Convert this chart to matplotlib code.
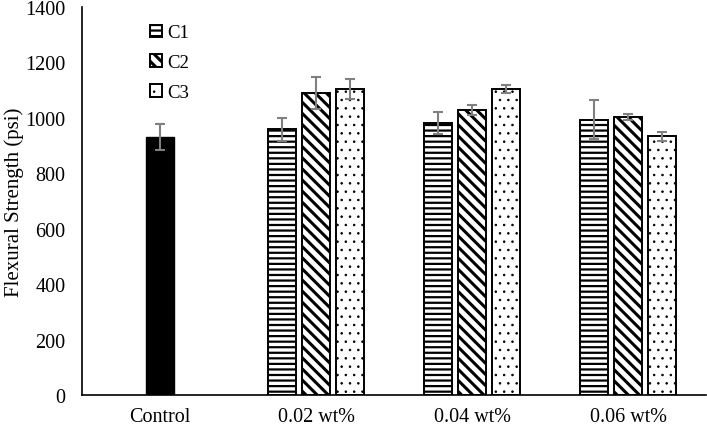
import matplotlib
matplotlib.use("Agg")
import matplotlib.pyplot as plt
import numpy as np

plt.rcParams['font.family'] = ['Liberation Serif', 'DejaVu Serif']
plt.rcParams['hatch.linewidth'] = 2.0

categories = ["Control", "0.02 wt%", "0.04 wt%", "0.06 wt%"]
control_value = 930
control_err = 47
series_names = ["C1", "C2", "C3"]
c1_values = [959, 981, 993]
c2_values = [1090, 1027, 1003]
c3_values = [1105, 1103, 933]
c1_err = [41, 41, 71]
c2_err = [57, 18, 11]
c3_err = [37, 15, 15]
y_ticks = [0, 200, 400, 600, 800, 1000, 1200, 1400]

fig = plt.figure(figsize=(7.07, 4.27), dpi=100)
ax = fig.add_axes([82/707, 31/427, 624/707, 388/427])

x = np.arange(len(categories))
width = 0.18
step = 0.22
err_kw = dict(ecolor='#808080', elinewidth=1.5, capsize=3.4, capthick=1.5)

ax.bar(x[0], control_value, width=0.175, color='black', edgecolor='black',
       yerr=control_err, error_kw=err_kw, zorder=2)

hatches = ['---', '\\\\\\', '..']
hatch_lw = [1.6, 2.2, 0.6]
series_vals = [c1_values, c2_values, c3_values]
series_errs = [c1_err, c2_err, c3_err]
for i, (name, vals, errs, h) in enumerate(zip(series_names, series_vals, series_errs, hatches)):
    bc = ax.bar(x[1:] + (i - 1) * step, vals, width=width, color='white', edgecolor='black',
                linewidth=1.4, hatch=h, yerr=errs, error_kw=err_kw, label=name, zorder=2)
    for p in bc.patches:
        if hasattr(p, 'set_hatch_linewidth'):
            p.set_hatch_linewidth(hatch_lw[i])

ax.set_xlim(-0.5, 3.5)
ax.set_ylim(0, 1400)
ax.set_yticks(y_ticks)
ax.set_xticks(x)
ax.set_xticklabels(categories)
ax.tick_params(axis='both', length=0, labelsize=14.5)
ax.tick_params(axis='y', pad=12)
ax.tick_params(axis='x', pad=9)
ax.set_ylabel("Flexural Strength (psi)", fontsize=15, labelpad=1)

for s in ['top', 'right']:
    ax.spines[s].set_visible(False)
for s in ['left', 'bottom']:
    ax.spines[s].set_color('black')
    ax.spines[s].set_linewidth(1.2)

leg = ax.legend(loc='upper left', bbox_to_anchor=(0.109, 0.955), frameon=False,
                fontsize=13.5, handlelength=0.65, handleheight=0.65,
                handletextpad=0.25, labelspacing=0.68, borderpad=0, borderaxespad=0)
for hp, lw in zip(leg.legend_handles, hatch_lw):
    if hasattr(hp, 'set_hatch_linewidth'):
        hp.set_hatch_linewidth(lw)

fig.savefig("out.png", dpi=100)
